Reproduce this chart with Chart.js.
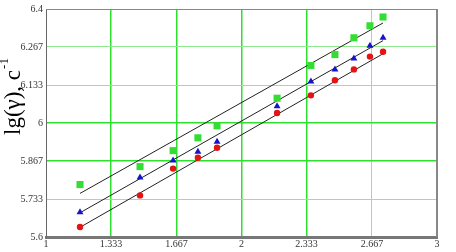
<!DOCTYPE html>
<html>
<head>
<meta charset="utf-8">
<script src="https://cdn.jsdelivr.net/npm/chart.js@4/dist/chart.umd.min.js"></script>
<style>
html,body{margin:0;padding:0;background:#fff;}
#wrap{width:456px;height:252px;position:relative;}
</style>
</head>
<body>
<div id="wrap"><canvas id="c" width="456" height="252"></canvas></div>
<script>
const xTickLabels = ['1','1.333','1.667','2','2.333','2.667','3'];
const yTickLabels = ['5.6','5.733','5.867','6','6.133','6.267','6.4'];
const xValues = [1.174, 1.481, 1.650, 1.777, 1.875, 2.182, 2.355, 2.478, 2.575, 2.657, 2.724];
const greenValues = [5.784, 5.847, 5.903, 5.948, 5.990, 6.087, 6.202, 6.240, 6.299, 6.341, 6.372];
const blueValues  = [5.687, 5.809, 5.868, 5.899, 5.934, 6.059, 6.146, 6.188, 6.226, 6.271, 6.299];
const redValues   = [5.635, 5.746, 5.840, 5.878, 5.913, 6.035, 6.097, 6.150, 6.188, 6.233, 6.250];
const fitX = [1.174, 2.724];
const fitTop = [5.753, 6.351];
const fitMid = [5.685, 6.289];
const fitBot = [5.634, 6.243];
const yTitle = 'lg(γ), с';
const yTitleSup = '-1';

const pts = (xs, ys) => xs.map((x, i) => ({x: x, y: ys[i]}));
const brightX = ['1.333','1.667','2','2.333'];
const brightY = ['6','5.867'];

const framePlugin = {
  id: 'frame',
  beforeDatasetsDraw(chart) {
    const {ctx, chartArea: a} = chart;
    ctx.save();
    ctx.strokeStyle = '#888';
    ctx.lineWidth = 1;
    ctx.beginPath();
    ctx.moveTo(a.left, a.top + 0.5);
    ctx.lineTo(a.right, a.top + 0.5);
    ctx.stroke();
    ctx.lineWidth = 2;
    ctx.beginPath();
    ctx.moveTo(a.right, a.top);
    ctx.lineTo(a.right, a.bottom);
    ctx.stroke();
    ctx.restore();
  },
  afterDraw(chart) {
    const ctx = chart.ctx;
    ctx.save();
    ctx.translate(20, 135);
    ctx.rotate(-Math.PI / 2);
    ctx.fillStyle = '#000';
    ctx.textBaseline = 'alphabetic';
    ctx.textAlign = 'left';
    ctx.font = '23px "Liberation Serif"';
    ctx.fillText(yTitle, 0, 0);
    const w = ctx.measureText(yTitle).width;
    ctx.font = '13px "Liberation Serif"';
    ctx.fillText(yTitleSup, w + 1, -12);
    ctx.restore();
  }
};

new Chart(document.getElementById('c'), {
  type: 'scatter',
  data: {
    datasets: [
      {data: pts(fitX, fitTop), type: 'line', borderColor: '#222', borderWidth: 1, pointRadius: 0, fill: false, order: 5},
      {data: pts(fitX, fitMid), type: 'line', borderColor: '#222', borderWidth: 1, pointRadius: 0, fill: false, order: 5},
      {data: pts(fitX, fitBot), type: 'line', borderColor: '#222', borderWidth: 1, pointRadius: 0, fill: false, order: 5},
      {data: pts(xValues, greenValues), pointStyle: 'rect', pointRadius: 5, backgroundColor: '#33dd33', borderColor: '#33dd33', borderWidth: 0, order: 1},
      {data: pts(xValues, blueValues), pointStyle: 'triangle', pointRadius: 4, backgroundColor: '#1515c8', borderColor: '#1515c8', borderWidth: 0, order: 1},
      {data: pts(xValues, redValues), pointStyle: 'circle', pointRadius: 3.2, backgroundColor: '#e41414', borderColor: '#e41414', borderWidth: 0, order: 1}
    ]
  },
  options: {
    responsive: false,
    animation: false,
    devicePixelRatio: 1,
    layout: {padding: {top: 7, right: 19, left: 0, bottom: 0}},
    plugins: {legend: {display: false}, tooltip: {enabled: false}},
    scales: {
      x: {
        type: 'linear', min: 1, max: 3,
        afterBuildTicks: s => { s.ticks = xTickLabels.map(v => ({value: parseFloat(v)})); },
        afterFit: s => { s.height = 15; },
        ticks: {
          autoSkip: false, maxRotation: 0, padding: 1, color: '#333',
          font: {family: '"Liberation Serif"', size: 10},
          callback: (v, i) => xTickLabels[i]
        },
        grid: {
          drawTicks: false,
          color: c => { const l = xTickLabels[c.index]; if (l === '1' || l === '3') return 'rgba(0,0,0,0)'; return brightX.includes(l) ? '#2ee02e' : '#8ee88e'; },
          lineWidth: c => brightX.includes(xTickLabels[c.index]) ? 1.5 : 1
        },
        border: {display: true, color: '#777', width: 3}
      },
      y: {
        type: 'linear', min: 5.6, max: 6.4,
        afterBuildTicks: s => { s.ticks = yTickLabels.map(v => ({value: parseFloat(v)})); },
        afterFit: s => { s.width = 46; },
        ticks: {
          autoSkip: false, padding: 3, color: '#333',
          font: {family: '"Liberation Serif"', size: 10},
          callback: (v, i) => yTickLabels[i]
        },
        grid: {
          drawTicks: false,
          color: c => { const l = yTickLabels[c.index]; if (l === '5.6' || l === '6.4') return 'rgba(0,0,0,0)'; return brightY.includes(l) ? '#2ee02e' : '#8ee88e'; },
          lineWidth: c => brightY.includes(yTickLabels[c.index]) ? 1.5 : 1
        },
        border: {display: true, color: '#666', width: 1}
      }
    }
  },
  plugins: [framePlugin]
});
</script>
</body>
</html>
